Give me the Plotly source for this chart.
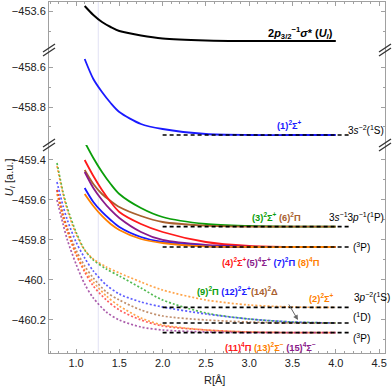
import plotly.graph_objects as go

# R grid (Angstrom) for the solid curves and for the dotted curves
r_solid = [1.1, 1.2, 1.3, 1.4, 1.5, 1.75, 2.0, 2.5, 3.0, 3.5, 4.0]
r_dot = [0.78, 0.85, 0.9, 1.0, 1.1, 1.2, 1.35, 1.5, 1.75, 2.0, 2.5, 3.0, 3.5, 4.0]

# top panel: 2p3/2^-1 sigma* (U_I)
u_core = [-453.575, -453.62, -453.655, -453.68, -453.70, -453.722, -453.737, -453.747, -453.75, -453.75, -453.75]
# middle panel: (1)2Sigma+
u_1 = [-458.56, -458.66, -458.725, -458.78, -458.825, -458.885, -458.91, -458.935, -458.94, -458.94, -458.94]
# bottom panel, solid
u_3 = [-459.31, -459.39, -459.46, -459.52, -459.57, -459.64, -459.685, -459.72, -459.73, -459.733, -459.733]
u_6 = [-459.45, -459.52, -459.57, -459.605, -459.635, -459.68, -459.71, -459.728, -459.733, -459.733, -459.733]
u_4 = [-459.40, -459.48, -459.55, -459.61, -459.66, -459.72, -459.76, -459.81, -459.83, -459.835, -459.835]
u_5 = [-459.46, -459.54, -459.60, -459.65, -459.69, -459.76, -459.80, -459.825, -459.833, -459.835, -459.835]
u_7 = [-459.54, -459.61, -459.66, -459.70, -459.735, -459.785, -459.81, -459.83, -459.835, -459.835, -459.835]
u_8 = [-459.57, -459.63, -459.68, -459.72, -459.75, -459.795, -459.815, -459.832, -459.835, -459.835, -459.835]
# bottom panel, dotted
u_9 = [-459.415, -459.56, -459.64, -459.76, -459.85, -459.90, -459.945, -459.98, -460.04, -460.10, -460.165, -460.195, -460.21, -460.215]
u_2 = [-459.43, -459.57, -459.65, -459.77, -459.85, -459.895, -459.935, -459.965, -460.01, -460.05, -460.10, -460.125, -460.135, -460.137]
u_12 = [-459.51, -459.63, -459.70, -459.81, -459.89, -459.955, -460.025, -460.07, -460.11, -460.135, -460.17, -460.195, -460.21, -460.215]
u_14 = [-459.55, -459.67, -459.74, -459.85, -459.93, -459.99, -460.06, -460.10, -460.15, -460.18, -460.20, -460.21, -460.215, -460.215]
u_11 = [-459.55, -459.68, -459.75, -459.87, -459.96, -460.03, -460.10, -460.15, -460.20, -460.23, -460.25, -460.26, -460.263, -460.263]
u_13 = [-459.57, -459.69, -459.76, -459.87, -459.95, -460.01, -460.08, -460.13, -460.19, -460.225, -460.25, -460.26, -460.263, -460.263]
u_15 = [-459.60, -459.72, -459.80, -459.92, -460.02, -460.09, -460.16, -460.20, -460.235, -460.25, -460.26, -460.263, -460.263, -460.263]

# asymptotic limits (dashed)
r_lim = [2.0, 4.16]
lim_mid = [-458.94]
lim_bot = [-459.733, -459.835, -460.137, -460.215, -460.263]

GREEN = "#0a9e0a"
BROWN = "#a8602e"
RED = "#ff1a1a"
PURPLE = "#8a1a8a"
BLUE = "#1a1aff"
ORANGE = "#ff8000"

fig = go.Figure()

def solid(r, u, c, ax="", w=1.8):
    fig.add_trace(go.Scatter(x=r, y=u, mode="lines", line=dict(color=c, width=w, shape="spline", smoothing=0.8),
                             xaxis="x" + ax, yaxis="y" + ax, showlegend=False))

def dotted(r, u, c):
    fig.add_trace(go.Scatter(x=r, y=u, mode="lines", opacity=0.7,
                             line=dict(color=c, width=1.7, dash="2px,2px", shape="spline", smoothing=0.8),
                             showlegend=False))

solid(r_solid, u_core, "black", "3", 2)
solid(r_solid, u_1, BLUE, "2")
for u, c in [(u_3, GREEN), (u_6, BROWN), (u_4, RED), (u_5, PURPLE), (u_7, BLUE), (u_8, ORANGE)]:
    solid(r_solid, u, c)
for u, c in [(u_9, GREEN), (u_2, ORANGE), (u_12, BLUE), (u_14, BROWN), (u_11, RED), (u_13, ORANGE), (u_15, PURPLE)]:
    dotted(r_dot, u, c)

for v in lim_mid:
    fig.add_trace(go.Scatter(x=r_lim, y=[v, v], mode="lines", xaxis="x2", yaxis="y2", showlegend=False,
                             line=dict(color="black", width=1.6, dash="4px,3px")))
for v in lim_bot:
    fig.add_trace(go.Scatter(x=r_lim, y=[v, v], mode="lines", showlegend=False,
                             line=dict(color="black", width=1.6, dash="4px,3px")))

FONT = "Liberation Sans, Arial, sans-serif"
xr = [0.688, 4.568]
b1, b2 = 0.5926, 0.8632
axcol = "#a0a0a0"

common_y = dict(showline=True, linecolor=axcol, linewidth=1, mirror="ticks", ticks="inside",
                ticklen=4, tickcolor=axcol, showgrid=False, zeroline=False, automargin=False,
                tickfont=dict(size=11, color="#222", family=FONT),
                minor=dict(dtick=0.1, ticks="inside", ticklen=2, tickcolor=axcol))

fig.update_layout(
    width=392, height=386, margin=dict(l=49, r=7, t=2, b=33, autoexpand=False),
    plot_bgcolor="white", paper_bgcolor="white",
    xaxis=dict(domain=[0, 1], range=xr, anchor="y", showline=True, linecolor=axcol, ticks="inside",
               ticklen=4, tickcolor=axcol, showgrid=False, zeroline=False, automargin=False,
               tickvals=[1.0, 1.5, 2.0, 2.5, 3.0, 3.5, 4.0, 4.5],
               ticktext=["1.0", "1.5", "2.0", "2.5", "3.0", "3.5", "4.0", "4.5"],
               tickfont=dict(size=11, color="#222", family=FONT),
               minor=dict(dtick=0.1, tick0=0, ticks="inside", ticklen=2, tickcolor=axcol)),
    xaxis2=dict(domain=[0, 1], range=xr, anchor="y2", showline=False, ticks="", showticklabels=False,
                showgrid=False, zeroline=False, automargin=False),
    xaxis3=dict(domain=[0, 1], range=xr, anchor="y3", side="top", showline=True, linecolor=axcol,
                ticks="inside", ticklen=4, tickcolor=axcol, showticklabels=False, showgrid=False,
                zeroline=False, automargin=False, tickvals=[1.0, 1.5, 2.0, 2.5, 3.0, 3.5, 4.0, 4.5],
                minor=dict(dtick=0.1, tick0=0, ticks="inside", ticklen=2, tickcolor=axcol)),
    yaxis=dict(domain=[0, b1], range=[-460.365, -459.325],
               tickvals=[-460.2, -460.0, -459.8, -459.6, -459.4],
               ticktext=["−460.2", "−460.", "−459.8", "−459.6", "−459.4"], **common_y),
    yaxis2=dict(domain=[b1, b2], range=[-458.99, -458.515],
                tickvals=[-458.8, -458.6], ticktext=["−458.8", "−458.6"], **common_y),
    yaxis3=dict(domain=[b2, 1], range=[-453.795, -453.555],
                tickvals=[-453.6], ticktext=["−453.6"], **common_y),
)

# faint vertical marker
fig.add_shape(type="line", xref="x", yref="paper", x0=1.257, x1=1.257, y0=0, y1=1,
              line=dict(color="#e2e2f4", width=1), layer="below")

# axis break marks
for px in [0, 1]:
    for py in [b1, b2]:
        for off in [-2, 2]:
            fig.add_shape(type="line", xref="paper", yref="paper", xsizemode="pixel", ysizemode="pixel",
                          xanchor=px, yanchor=py, x0=-6, x1=6, y0=off - 4, y1=off + 4,
                          line=dict(color="#333", width=1.4))

def lab(x, y, text, ax="", size=10):
    fig.add_annotation(x=x, y=y, xref="x" + ax, yref="y" + ax, text=text, showarrow=False,
                       xanchor="left", yanchor="middle", font=dict(size=size, family=FONT, color="black"))

def col(c, t):
    return "<span style='color:%s'><b>%s</b></span>" % (c, t)

fig.add_annotation(x=3.587, y=-453.71, xref="x3", yref="y3", showarrow=False, xanchor="center",
                   yanchor="middle",
                   text="<b>2<i>p</i><sub>3/2</sub><sup>−1</sup><i>σ</i>* (<i>U<sub>I</sub></i>)</b>",
                   font=dict(size=11, family=FONT, color="black"))
lab(3.30, -458.89, col(BLUE, "(1)<sup>2</sup>Σ<sup>+</sup>"), "2", 9.3)
lab(4.12, -458.915, "3<i>s</i><sup>−2</sup>(<sup>1</sup>S)", "2")

lab(3.01, -459.685, col(GREEN, "(3)<sup>2</sup>Σ<sup>+</sup>") + " " + col(BROWN, "(6)<sup>2</sup>Π"), "", 9.3)
lab(3.90, -459.685, "3<i>s</i><sup>−1</sup>3<i>p</i><sup>−1</sup>(<sup>1</sup>P)")
lab(4.18, -459.835, "(<sup>3</sup>P)")
lab(2.663, -459.91, col(RED, "(4)<sup>2</sup>Σ<sup>+</sup>") + col(PURPLE, "(5)<sup>4</sup>Σ<sup>+</sup>") + " "
    + col(BLUE, "(7)<sup>2</sup>Π") + " " + col(ORANGE, "(8)<sup>4</sup>Π"), "", 9.3)
lab(2.374, -460.055, col(GREEN, "(9)<sup>2</sup>Π") + " " + col(BLUE, "(12)<sup>2</sup>Σ<sup>+</sup>")
    + col(BROWN, "(14)<sup>2</sup>Δ"), "", 9.3)
lab(3.667, -460.09, col(ORANGE, "(2)<sup>2</sup>Σ<sup>+</sup>"), "", 9.3)
lab(4.19, -460.085, "3<i>p</i><sup>−2</sup>(<sup>1</sup>S)")
lab(4.18, -460.185, "(<sup>1</sup>D)")
lab(4.18, -460.29, "(<sup>3</sup>P)")
lab(2.697, -460.335, col(RED, "(11)<sup>4</sup>Π") + " " + col(ORANGE, "(13)<sup>2</sup>Σ<sup>−</sup>") + " "
    + col(PURPLE, "(15)<sup>4</sup>Σ<sup>−</sup>"), "", 9.3)

fig.add_annotation(x=3.563, y=-460.2, xref="x", yref="y", ax=-10, ay=-17, text="", showarrow=True,
                   arrowhead=2, arrowsize=1, arrowwidth=1, arrowcolor="#666")

fig.add_annotation(x=-0.116, y=0.501, xref="paper", yref="paper", textangle=-90, showarrow=False,
                   xanchor="center", yanchor="middle",
                   text="<i>U<sub>I</sub></i> [a.u.]", font=dict(size=11, family=FONT, color="#222"))
fig.add_annotation(x=0.494, y=-0.078, xref="paper", yref="paper", showarrow=False,
                   xanchor="center", yanchor="middle",
                   text="R[Å]", font=dict(size=11, family=FONT, color="#222"))

# page body has a default 8px margin; drop it so the figure fills the window
fig.write_html("out.html", config={"displayModeBar": False},
               post_script="document.body.style.margin='0';")
